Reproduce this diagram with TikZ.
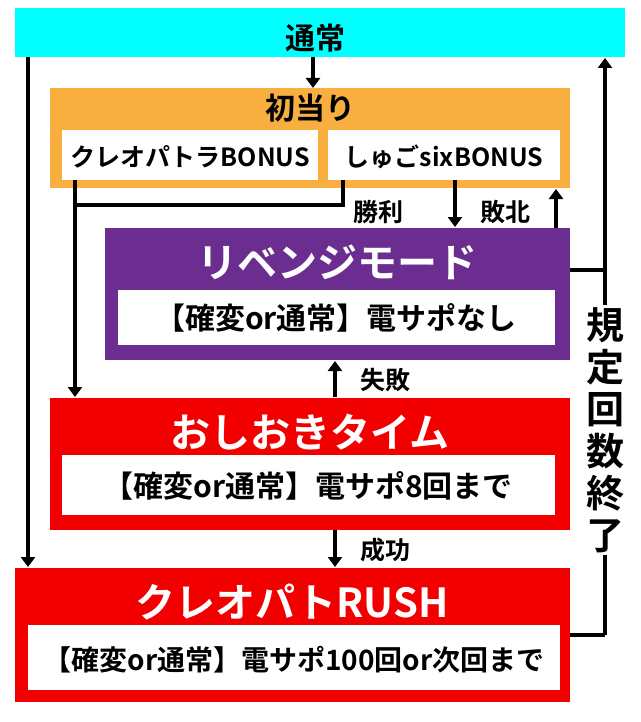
\documentclass[tikz,border=0pt]{standalone}
\usepackage{fontspec}
\newfontfamily\jp{Noto Sans CJK JP Bold}
\usetikzlibrary{arrows.meta}
\definecolor{cy}{HTML}{00FFFF}
\definecolor{org}{HTML}{F8AF40}
\definecolor{pur}{HTML}{6B2D90}
\definecolor{rd}{HTML}{F20000}
\tikzset{x=1pt,y=-1pt,
 box/.style={draw=none,inner sep=0,anchor=north west},
 wbox/.style={fill=white,inner sep=0,anchor=north west},
 ttl/.style={font=\jp\fontsize{40}{42}\selectfont,text=white},
 inn/.style={font=\jp\fontsize{30}{33}\selectfont},
 ln/.style={line width=4pt},
 ar/.style={line width=4pt,-{Triangle[length=10pt,width=14pt]}},
 lbl/.style={font=\jp\fontsize{25}{26}\selectfont,fill=white,inner sep=1pt}}
\begin{document}
\begin{tikzpicture}
\useasboundingbox (0,0) rectangle (640,722);
\fill[white] (0,0) rectangle (640,722);
% boxes
\node[box,fill=cy,minimum width=610,minimum height=49] (top) at (15,8) {};
\node[font=\jp\fontsize{30}{32}\selectfont] at (315,38) {通常};
\node[box,fill=org,minimum width=520,minimum height=100] (ini) at (50,88) {};
\node[font=\jp\fontsize{30}{32}\selectfont] at (310,108) {初当り};
\node[wbox,minimum width=256,minimum height=50] (cb) at (62,130) {};
\node[font=\jp\fontsize{25}{27}\selectfont] at (190,157) {クレオパトラBONUS};
\node[wbox,minimum width=232,minimum height=50] (sb) at (328,130) {};
\node[font=\jp\fontsize{25}{27}\selectfont] at (444,157) {しゅごsixBONUS};
\node[box,fill=pur,minimum width=465,minimum height=132] (rv) at (105,228) {};
\node[ttl] at (337,262) {リベンジモード};
\node[wbox,minimum width=437,minimum height=55] (rvw) at (118,290) {};
\node[inn] at (336,318) {【確変or通常】電サポなし};
\node[box,fill=rd,minimum width=520,minimum height=132] (os) at (50,398) {};
\node[ttl] at (310,432) {おしおきタイム};
\node[wbox,minimum width=493,minimum height=60] (osw) at (62,455) {};
\node[inn] at (308,486) {【確変or通常】電サポ8回まで};
\node[box,fill=rd,minimum width=555,minimum height=134] (ru) at (15,568) {};
\node[ttl] at (292,602) {クレオパトRUSH};
\node[wbox,minimum width=532,minimum height=65] (ruw) at (28,625) {};
\node[font=\jp\fontsize{28}{30}\selectfont] at (294,660) {【確変or通常】電サポ100回or次回まで};
% connectors
\coordinate (a1) at (313,57); \coordinate (a2) at (313,88);
\draw[ar] (a1) -- (a2);
\coordinate (l1) at (28,57); \coordinate (l2) at (28,567);
\draw[ar] (l1) -- (l2);
\coordinate (c1) at (75,180); \coordinate (c2) at (75,397);
\draw[ar] (c1) -- (c2);
\coordinate (s1) at (343,180); \coordinate (s2) at (343,205); \coordinate (s3) at (75,205);
\draw[ln] (s1) -- (s2) -- (s3);
\node[lbl] (win) at (378,212) {勝利};
\coordinate (d1) at (455,180); \coordinate (d2) at (455,227);
\draw[ar] (d1) -- (d2);
\node[lbl] (lose) at (505,212) {敗北};
\coordinate (u1) at (556,228); \coordinate (u2) at (556,189);
\draw[ar] (u1) -- (u2);
\coordinate (f1) at (335,397); \coordinate (f2) at (335,361);
\draw[ar] (f1) -- (f2);
\node[lbl] (fail) at (385,380) {失敗};
\coordinate (g1) at (335,530); \coordinate (g2) at (335,567);
\draw[ar] (g1) -- (g2);
\node[lbl] (succ) at (385,550) {成功};
\coordinate (r1) at (570,270); \coordinate (r2) at (605,270);
\coordinate (r3) at (570,635); \coordinate (r4) at (605,635); \coordinate (r5) at (605,58);
\draw[ln] (r1) -- (r2);
\draw[ln] (r3) -- (r4);
\draw[ar] (r4) -- (r5);
\node[fill=white,inner sep=2pt,align=center,font=\jp\fontsize{38}{42}\selectfont] (kt) at (605,430) {規\\定\\回\\数\\終\\了};
\end{tikzpicture}
\end{document}
